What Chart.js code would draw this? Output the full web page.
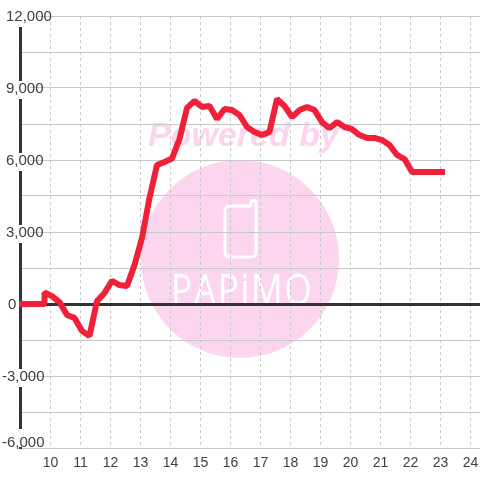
<!DOCTYPE html>
<html><head><meta charset="utf-8">
<style>html,body{margin:0;padding:0;background:#fff}canvas{display:block}</style>
<script src="https://cdn.jsdelivr.net/npm/chart.js@4"></script></head>
<body><canvas id="c" width="480" height="480"></canvas>
<script>
const hours = [9.05,9.3,9.55,9.8,9.8,10.05,10.3,10.55,10.8,11.05,11.3,11.55,11.8,12.05,12.3,12.55,12.8,13.05,13.3,13.55,13.8,14.05,14.3,14.55,14.8,15.05,15.3,15.55,15.8,16.05,16.3,16.55,16.8,17.05,17.3,17.55,17.8,18.05,18.3,18.55,18.8,19.05,19.3,19.55,19.8,20.05,20.3,20.55,20.8,21.05,21.3,21.55,21.8,22.05,22.3,22.55,22.8,23.05];
const profit = [0,0,0,0,480,330,80,-460,-580,-1120,-1330,120,460,960,790,750,1625,2750,4420,5790,5920,6060,6875,8170,8460,8210,8250,7710,8125,8080,7875,7375,7170,7040,7170,8540,8250,7790,8080,8210,8080,7580,7330,7580,7375,7290,7040,6920,6920,6830,6625,6210,6040,5500,5500,5500,5500,5500];
const yLabelShift = {"12000":[6,1],"9000":[6,1],"6000":[6,1],"3000":[6,1],"0":[8,1],"-3000":[2,1],"-6000":[2,-5]};
const watermarkTop = "Powered by";
const watermarkLogo = "PAPiMO";

const watermark = {id:'watermark',beforeDraw(ch){
  const g=ch.ctx;g.save();
  g.fillStyle='#fff';g.fillRect(0,0,480,480);
  g.fillStyle='#fbd6ee';
  g.beginPath();g.arc(240,259,99,0,Math.PI*2);g.fill();
  g.font='italic bold 34px "Liberation Sans"';g.textBaseline='alphabetic';g.textAlign='left';
  g.fillText(watermarkTop,148,146);
  g.strokeStyle='#fff';g.lineWidth=3;g.lineJoin='round';
  g.beginPath();g.moveTo(249,206);g.lineTo(230,206);g.quadraticCurveTo(225,206,225,211);g.lineTo(225,252);
  g.quadraticCurveTo(225,257,230,257);g.lineTo(251,257);g.quadraticCurveTo(256,257,256,252);
  g.lineTo(256,203);g.arc(253.5,203,2.5,0,Math.PI,true);g.lineTo(251,206);g.closePath();g.stroke();
  g.fillStyle='#fff';g.font='400 44px "Open Sans"';g.letterSpacing='2px';
  g.save();g.translate(171,305);g.scale(0.8,1);g.fillText(watermarkLogo,0,0);g.restore();
  g.restore();
}};
const nudge = {id:'nudge',afterUpdate(ch){
  const s=ch.scales.y;
  s.getLabelItems().forEach(it=>{
    const o=it.options;
    const n=yLabelShift[String(it.label).replace(/,/g,'')];
    if(!n){o.backdrop=null;return;}
    const dx=n[0]-o.translation[0];
    o.translation=[n[0],o.translation[1]+n[1]];
    if(o.backdrop){o.backdrop.left+=dx;o.backdrop.top+=n[1];}
  });
}};
new Chart(document.getElementById('c'),{
  type:'line',
  data:{datasets:[{data:hours.map((h,i)=>({x:h,y:profit[i]})),borderColor:'#f02038',borderWidth:6,borderCapStyle:'square',borderJoinStyle:'bevel',pointRadius:0,tension:0,clip:false,fill:false}]},
  options:{responsive:false,animation:false,events:[],
    layout:{padding:{top:16,left:0,right:0,bottom:0}},
    plugins:{legend:{display:false},tooltip:{enabled:false},title:{display:false}},
    scales:{
      x:{type:'linear',min:9,max:9+459.5/30,
        afterFit(s){s.height=32;s.paddingLeft=0;s.paddingRight=0;},
        ticks:{stepSize:1,includeBounds:false,autoSkip:false,maxRotation:0,padding:7,color:'#404040',font:{family:'"Liberation Sans"',size:14},
          callback:v=>v>=10?String(v):''},
        grid:{color:'#c8c8c8',lineWidth:1,drawTicks:false},
        border:{display:false,dash:[3,3]}},
      y:{min:-6000,max:12000,
        afterFit(s){s.width=20.5;s.paddingTop=0;s.paddingBottom=0;},
        ticks:{stepSize:1500,autoSkip:false,padding:0,mirror:true,color:'#404040',font:{family:'"Liberation Sans"',size:15},
          showLabelBackdrop:true,backdropColor:'#fff',backdropPadding:{top:0,bottom:0,left:1,right:1},
          callback:v=>v%3000===0?v.toLocaleString('en-US'):''},
        grid:{drawTicks:false,color:c=>c.tick&&c.tick.value===0?'#333':'#c8c8c8',lineWidth:c=>c.tick&&c.tick.value===0?3:1},
        border:{display:true,color:'#333',width:3}}
    }},
  plugins:[watermark,nudge]
});
</script></body></html>
